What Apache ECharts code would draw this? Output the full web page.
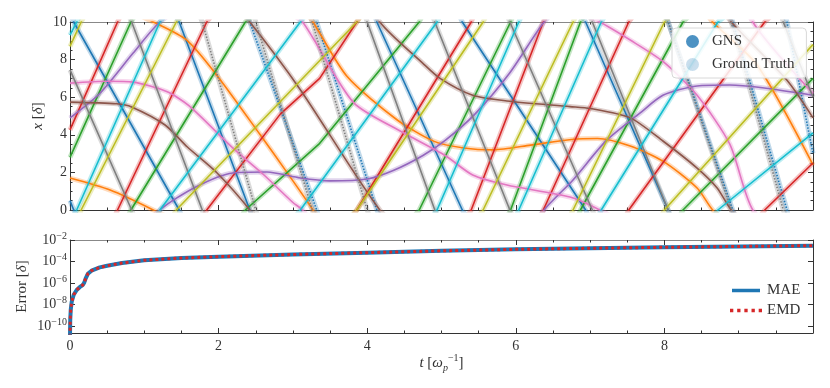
<!DOCTYPE html>
<html><head><meta charset="utf-8">
<script src="https://cdn.jsdelivr.net/npm/echarts@6/dist/echarts.min.js"></script>
<style>html,body{margin:0;padding:0;background:#fff}#c{width:830px;height:388px}</style>
</head><body><div id="c"></div>
<script>
// ---------------- data (t in 1/omega_p, x in delta, unwrapped positions) ----------------
const blueTraj   = [[0,0.5],[0.05,0],[1.47,-10],[2.42,-20],[3.32,-30],[4.13,-40],[5.28,-50],[6.94,-60],[8.05,-70],[8.92,-80],[9.65,-90],[10,-97]];
const orangeTraj = [[0,1.7],[0.54,1.06],[1.12,0],[1.57,-0.96],[1.95,-2.7],[2.56,-6.0],[2.92,-8.0],[3.27,-10],[3.73,-12.9],[4.4,-15.2],[4.9,-16.35],[5.3,-16.7],[5.7,-16.8],[6.2,-16.55],[6.75,-16.25],[7.1,-16.2],[7.54,-16.6],[7.98,-17.4],[8.44,-18.83],[8.65,-20],[9.25,-22.3],[10,-27.6]];
const greenTraj  = [[0,2.8],[0.82,10],[2.36,20],[3.35,23.5],[4.70,30],[5.93,40],[6.87,50],[8.25,60],[10,67.0]];
const redTraj    = [[0,4.26],[0.64,10],[1.84,20],[2.83,25.1],[3.36,27.0],[3.86,30],[5.4,40],[6.37,50],[7.52,60],[9.35,70],[10,72.5]];
const purpleTraj = [[0,4.9],[0.4,6.2],[0.85,8.35],[1.21,10],[1.68,11.2],[2.19,11.97],[2.65,12.02],[3.1,11.7],[3.5,11.55],[4.0,11.65],[4.35,12.1],[4.75,12.9],[5.05,13.7],[5.45,15.1],[5.92,17.3],[6.38,20],[6.77,21.6],[7.22,23.7],[7.67,25.15],[7.98,26.1],[8.44,26.6],[8.88,26.65],[9.32,26.5],[10,26.1]];
const brownTraj  = [[0,5.74],[0.63,5.65],[0.83,5.48],[1.28,4.52],[1.58,3.35],[1.98,1.97],[2.42,0],[3.1,-3.6],[4.17,-10],[4.75,-12.2],[4.98,-13.0],[5.42,-13.9],[5.88,-14.2],[6.73,-14.5],[7.0,-14.6],[7.54,-15.1],[7.98,-16.33],[8.44,-17.77],[8.71,-18.83],[8.9,-20],[9.65,-23.1],[10,-25.1]];
const pinkTraj   = [[0,6.75],[0.5,6.85],[0.85,6.8],[1.3,6.3],[1.6,5.55],[2.19,3.3],[2.6,1.9],[3.0,0.4],[3.13,0],[3.27,-0.85],[3.82,-4.3],[4.47,-5.85],[5.05,-7.1],[5.42,-8.14],[5.88,-8.67],[6.73,-9.31],[7.13,-10],[7.54,-10.96],[7.98,-12.1],[8.44,-13.9],[8.88,-16.5],[9.19,-20],[10,-23.8]];
const grayTraj   = [[0,7.45],[0.83,0],[1.78,-10],[2.5,-20],[3.26,-30],[4.0,-40],[4.91,-50],[5.92,-60],[7.03,-70],[8.05,-80],[8.9,-90],[9.6,-100],[10,-104]];
const oliveTraj  = [[0,8.7],[0.15,10],[1.43,20],[3.86,30],[5.56,40],[6.77,50],[8.0,60],[10,68.8]];
const cyanTraj   = [[0,-0.7],[0.09,0],[1.21,10],[3.10,20],[4.94,30],[6.04,40],[7.15,50],[8.72,60],[10,64.1]];

const errT    = [0, 0.003, 0.01, 0.023, 0.05, 0.09, 0.13, 0.17, 0.19, 0.21, 0.24, 0.29, 0.4, 0.5, 0.7, 1.0, 1.5, 2, 3, 4, 5, 6, 7, 8, 9, 10];
const maeVals = [1e-11, 3.2e-10, 3.2e-9, 1.8e-8, 7.9e-8, 2.2e-7, 4.0e-7, 6.3e-7, 1.0e-6, 2.5e-6, 7.1e-6, 1.4e-5, 2.8e-5, 4.0e-5, 7.1e-5, 1.3e-4, 2.1e-4, 2.8e-4, 4.5e-4, 6.6e-4, 9.8e-4, 1.35e-3, 1.7e-3, 2.1e-3, 2.5e-3, 2.95e-3];
const emdVals = [1e-11, 3.2e-10, 3.2e-9, 1.8e-8, 7.9e-8, 2.2e-7, 4.0e-7, 6.3e-7, 1.0e-6, 2.5e-6, 7.1e-6, 1.4e-5, 2.8e-5, 4.0e-5, 7.1e-5, 1.3e-4, 2.1e-4, 2.8e-4, 4.5e-4, 6.6e-4, 9.8e-4, 1.35e-3, 1.7e-3, 2.1e-3, 2.5e-3, 2.95e-3];

const errTicks = [1e-10, 1e-8, 1e-6, 1e-4, 1e-2];
const legendTop = ['GNS', 'Ground Truth'];
const legendBottom = ['MAE', 'EMD'];

// ---------------- rendering ----------------
const FONT = 'Liberation Serif';
const TXT = '#333';
const particles = [
  {pts: blueTraj,   color: '#1f77b4', smooth: false},
  {pts: orangeTraj, color: '#ff7f0e', smooth: 0.25},
  {pts: greenTraj,  color: '#2ca02c', smooth: false},
  {pts: redTraj,    color: '#d62728', smooth: false},
  {pts: purpleTraj, color: '#9467bd', smooth: 0.25},
  {pts: brownTraj,  color: '#8c564b', smooth: 0.25},
  {pts: pinkTraj,   color: '#e377c2', smooth: 0.25},
  {pts: grayTraj,   color: '#7f7f7f', smooth: false},
  {pts: oliveTraj,  color: '#bcbd22', smooth: false},
  {pts: cyanTraj,   color: '#17becf', smooth: false}
];

// periodic domain [0,10): draw shifted copies of each unwrapped trajectory, clipped by the grid
function copies(pts) {
  let lo = Infinity, hi = -Infinity;
  pts.forEach(p => { lo = Math.min(lo, p[1]); hi = Math.max(hi, p[1]); });
  const out = [];
  for (let k = Math.floor(lo / 10); k <= Math.floor(hi / 10); k++) {
    out.push(pts.map(p => [p[0], p[1] - 10 * k]));
  }
  return out;
}
function isFast(d) {
  const vis = d.filter(q => q[1] >= -1e-6 && q[1] <= 10 + 1e-6);
  if (vis.length < 2) return false;
  const a = vis[0], b = vis[vis.length - 1];
  return Math.abs((b[1] - a[1]) / (b[0] - a[0])) > 11;
}

const gtLayer = [], gnsLayer = [];
particles.forEach(p => {
  copies(p.pts).forEach(d => {
    gtLayer.push({type: 'line', xAxisIndex: 0, yAxisIndex: 0, data: d, symbol: 'none', silent: true, clip: true,
      smooth: p.smooth, lineStyle: {color: p.color, width: 5, opacity: 0.28}, z: 2});
    gnsLayer.push({type: 'line', xAxisIndex: 0, yAxisIndex: 0, data: d, symbol: 'none', silent: true, clip: true,
      smooth: p.smooth, lineStyle: {color: p.color, width: 1.6, type: isFast(d) ? [1.4, 1.6] : 'solid'}, z: 3});
  });
});

const richBase = {
  it: {fontStyle: 'italic', fontFamily: FONT, fontSize: 15, color: TXT, lineHeight: 20},
  sup: {fontFamily: FONT, fontSize: 10, color: TXT, verticalAlign: 'top', lineHeight: 10},
  sub: {fontStyle: 'italic', fontFamily: FONT, fontSize: 10, color: TXT, verticalAlign: 'bottom', lineHeight: 10}
};

function mkX(grid, pos, labels, name) {
  return {
    type: 'value', gridIndex: grid, position: pos, min: 0, max: 10, interval: 2,
    axisLine: {show: true, onZero: false, lineStyle: {color: pos === 'top' ? '#888' : '#333', width: 1}},
    axisTick: {show: true, inside: true, length: 5, lineStyle: {color: '#333'}},
    minorTick: {show: true, splitNumber: 4, length: 2.5, lineStyle: {color: '#333'}},
    splitLine: {show: false}, minorSplitLine: {show: false},
    axisLabel: {show: labels, showMaxLabel: false, fontSize: 14, color: TXT, margin: 6, fontFamily: FONT},
    name: name || '', nameLocation: 'middle', nameGap: 20, nameMoveOverlap: false,
    nameTextStyle: {fontFamily: FONT, fontSize: 15, color: TXT, lineHeight: 20, rich: richBase}
  };
}
function mkYTop(pos, labels, name) {
  return {
    type: 'value', gridIndex: 0, position: pos, min: 0, max: 10, interval: 2,
    axisLine: {show: true, onZero: false, lineStyle: {color: '#333', width: 1}},
    axisTick: {show: true, inside: true, length: 5, lineStyle: {color: '#333'}},
    minorTick: {show: true, splitNumber: 4, length: 2.5, lineStyle: {color: '#333'}},
    splitLine: {show: false}, minorSplitLine: {show: false},
    axisLabel: {show: labels, fontSize: 14, color: TXT, margin: 3, fontFamily: FONT},
    name: name || '', nameLocation: 'middle', nameGap: 22, nameRotate: 90, nameMoveOverlap: false,
    nameTextStyle: {fontFamily: FONT, fontSize: 15, color: TXT, rich: richBase}
  };
}
function expLabel(v) {
  const e = Math.round(Math.log10(v));
  return '10{sup|' + (e < 0 ? '\u2212' : '') + Math.abs(e) + '}';
}
function mkYErr(pos, labels, name) {
  return {
    type: 'log', logBase: 10, gridIndex: 1, position: pos, min: 2.2e-11, max: 1e-2,
    axisLine: {show: true, onZero: false, lineStyle: {color: '#333', width: 1}},
    axisTick: {show: true, inside: true, length: 5, customValues: errTicks, lineStyle: {color: '#333'}},
    minorTick: {show: false},
    splitLine: {show: false},
    axisLabel: {show: labels, customValues: errTicks, formatter: expLabel, fontSize: 14, color: TXT, margin: 3,
      fontFamily: FONT, lineHeight: 18,
      rich: {sup: {fontFamily: FONT, fontSize: 10, color: TXT, verticalAlign: 'top', lineHeight: 10}}},
    name: name || '', nameLocation: 'middle', nameGap: 38, nameRotate: 90, nameMoveOverlap: false,
    nameTextStyle: {fontFamily: FONT, fontSize: 15, color: TXT, rich: richBase}
  };
}

const option = {
  animation: false,
  backgroundColor: '#fff',
  textStyle: {fontFamily: FONT},
  grid: [
    {left: 70, top: 22, width: 743, height: 188},
    {left: 70, top: 240, width: 743, height: 93}
  ],
  xAxis: [
    mkX(0, 'bottom', false), mkX(0, 'top', false),
    mkX(1, 'bottom', true, '{it|t} [{it|\u03c9}{sub|p}{sup|\u22121}]'), mkX(1, 'top', false)
  ],
  yAxis: [
    mkYTop('left', true, '{it|x} [{it|\u03b4}]'), mkYTop('right', false),
    mkYErr('left', true, 'Error [{it|\u03b4}]'), mkYErr('right', false)
  ],
  legend: [
    {data: legendTop, orient: 'vertical', left: 672, top: 28, padding: [6, 12, 6, 14], itemGap: 8,
      itemWidth: 13, itemHeight: 13, icon: 'circle', backgroundColor: 'rgba(255,255,255,0.85)',
      borderColor: '#d8d8d8', borderWidth: 1, borderRadius: 4, selectedMode: false,
      textStyle: {fontFamily: FONT, fontSize: 15, color: TXT, padding: [0, 0, 0, 8]}},
    {data: [
        {name: legendBottom[0], icon: 'path://M0,0H32V4H0Z'},
        {name: legendBottom[1], icon: 'path://M0,0h3v3h-3z M6.5,0h3v3h-3z M13,0h3v3h-3z M19.5,0h3v3h-3z M26,0h3v3h-3z'}
      ],
      orient: 'vertical', left: 730, top: 283, padding: 0, itemGap: 5,
      itemWidth: 32, itemHeight: 3.5, selectedMode: false,
      textStyle: {fontFamily: FONT, fontSize: 15, color: TXT}}
  ],
  series: [].concat(gtLayer, gnsLayer, [
    {name: 'GNS', type: 'scatter', xAxisIndex: 0, yAxisIndex: 0, data: [], itemStyle: {color: '#1f77b4'}},
    {name: 'Ground Truth', type: 'scatter', xAxisIndex: 0, yAxisIndex: 0, data: [], itemStyle: {color: 'rgba(31,119,180,0.3)'}},
    {name: 'MAE', type: 'line', xAxisIndex: 2, yAxisIndex: 2, symbol: 'none', clip: true,
      data: errT.map((t, i) => [t, maeVals[i]]), lineStyle: {color: '#1f77b4', width: 4}, itemStyle: {color: '#1f77b4'}, z: 3},
    {name: 'EMD', type: 'line', xAxisIndex: 2, yAxisIndex: 2, symbol: 'none', clip: true,
      data: errT.map((t, i) => [t, emdVals[i]]), lineStyle: {color: '#d62728', width: 3, type: [3, 3]}, itemStyle: {color: '#d62728'}, z: 4}
  ])
};
const chart = echarts.init(document.getElementById('c'));
chart.setOption(option);
</script></body></html>
